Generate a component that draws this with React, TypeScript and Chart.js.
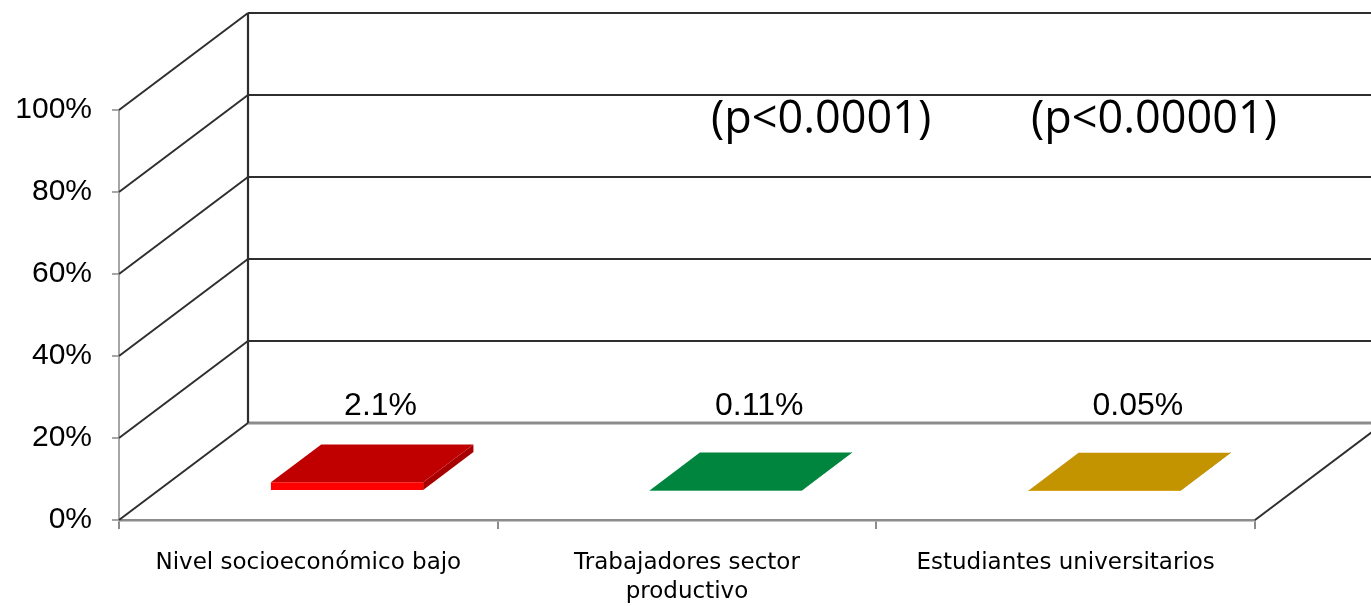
import React, { useEffect, useRef } from 'react';
import { Chart, registerables } from 'chart.js';

Chart.register(...registerables);

// ---- data ----
const categories: string[][] = [
  ['Nivel socioeconómico bajo'],
  ['Trabajadores sector', 'productivo'],
  ['Estudiantes universitarios'],
];
const values: number[] = [2.1, 0.11, 0.05];
const valueLabels: string[] = ['2.1%', '0.11%', '0.05%'];
const yTicks: number[] = [0, 20, 40, 60, 80, 100];
const pValueTexts: string[] = ['(p<0.0001)', '(p<0.00001)'];

// ---- styles ----
const topColors = ['#C00000', '#00853E', '#C49300'];
const frontColors = ['#FF0000', '#14994A', '#D6A412'];
const sideColors = ['#A80000', '#006D33', '#A87E00'];

const DX = 129; // depth offset in x
const DY = 97; // depth offset in y
const F0 = 0.3; // bar front depth fraction
const F1 = 0.69; // bar back depth fraction
const F_LABEL = 0.56;

const proj = (x: number, y: number, f: number): [number, number] => [x + f * DX, y - f * DY];

const threeD = {
  id: 'threeD',
  beforeDatasetsDraw(chart: any) {
    const { ctx, chartArea: a, scales } = chart;
    const y = scales.y;
    const line = (x1: number, y1: number, x2: number, y2: number) => {
      ctx.beginPath();
      ctx.moveTo(x1, y1);
      ctx.lineTo(x2, y2);
      ctx.stroke();
    };
    ctx.save();
    yTicks.forEach((v) => {
      const py = y.getPixelForValue(v);
      ctx.strokeStyle = '#2E2E2E';
      ctx.lineWidth = 2;
      line(a.left, py, a.left + DX, py - DY);
      ctx.strokeStyle = v === 0 ? '#8C8C8C' : '#2E2E2E';
      ctx.lineWidth = v === 0 ? 3 : 2.2;
      line(a.left + DX, py - DY, a.right + DX, py - DY);
    });
    ctx.strokeStyle = '#2E2E2E';
    ctx.lineWidth = 2.2;
    line(a.left + DX, y.getPixelForValue(yTicks[yTicks.length - 1]) - DY, a.left + DX, y.getPixelForValue(0) - DY);
    ctx.lineWidth = 2;
    line(a.right, a.bottom, a.right + DX, a.bottom - DY);
    ctx.restore();
  },
  beforeDatasetDraw() {
    return false;
  },
  afterDatasetsDraw(chart: any) {
    const { ctx, chartArea: a } = chart;
    const meta = chart.getDatasetMeta(0);
    const poly = (pts: [number, number][], color: string) => {
      ctx.beginPath();
      ctx.moveTo(pts[0][0], pts[0][1]);
      for (let k = 1; k < pts.length; k++) ctx.lineTo(pts[k][0], pts[k][1]);
      ctx.closePath();
      ctx.fillStyle = color;
      ctx.fill();
    };
    ctx.save();
    meta.data.forEach((el: any, i: number) => {
      const { x, y: top, base, width } = el.getProps(['x', 'y', 'base', 'width'], true);
      const xl = x - width / 2;
      const xr = x + width / 2;
      poly([proj(xr, base, F0), proj(xr, base, F1), proj(xr, top, F1), proj(xr, top, F0)], sideColors[i]);
      poly([proj(xl, top, F0), proj(xr, top, F0), proj(xr, top, F1), proj(xl, top, F1)], topColors[i]);
      poly([proj(xl, base, F0), proj(xr, base, F0), proj(xr, top, F0), proj(xl, top, F0)], frontColors[i]);
      ctx.fillStyle = '#000';
      ctx.font = '32px "Liberation Sans", Arial, sans-serif';
      ctx.textAlign = 'center';
      ctx.textBaseline = 'alphabetic';
      ctx.fillText(valueLabels[i], x + F_LABEL * DX, base - DY - 7);
    });
    ctx.font = '45px "Open Sans", "Noto Sans", sans-serif';
    ctx.textAlign = 'center';
    ctx.textBaseline = 'alphabetic';
    ctx.fillStyle = '#000';
    const w = a.right - a.left;
    const fr = [0.618, 0.911];
    pValueTexts.forEach((t, i) => {
      ctx.fillText(t, a.left + fr[i] * w, a.top + 23);
    });
    ctx.restore();
  },
};

export default function App() {
  const ref = useRef<HTMLCanvasElement | null>(null);
  useEffect(() => {
    if (!ref.current) return;
    const chart = new Chart(ref.current, {
      type: 'bar',
      data: {
        labels: categories,
        datasets: [
          {
            data: values,
            backgroundColor: topColors,
            barPercentage: 0.402,
            categoryPercentage: 1,
          },
        ],
      },
      options: {
        animation: false,
        responsive: true,
        maintainAspectRatio: false,
        layout: { padding: { top: 110, right: 116, left: 0, bottom: 0 } },
        plugins: { legend: { display: false }, tooltip: { enabled: false } },
        scales: {
          x: {
            grid: { drawOnChartArea: false, drawTicks: true, tickLength: 9, color: '#8C8C8C', lineWidth: 2, offset: true },
            border: { display: true, color: '#8C8C8C', width: 2.5 },
            ticks: {
              font: { family: '"DejaVu Sans", sans-serif', size: 23, lineHeight: 1.25 },
              color: '#000',
              padding: 20,
              maxRotation: 0,
              autoSkip: false,
            },
            afterFit: (s: any) => {
              s.height = 86;
            },
          },
          y: {
            min: 0,
            max: 100,
            afterBuildTicks: (s: any) => {
              s.ticks = yTicks.map((v) => ({ value: v }));
            },
            ticks: {
              callback: (v: any) => v + '%',
              font: { family: '"Liberation Sans", Arial, sans-serif', size: 30 },
              color: '#000',
              padding: 20,
            },
            grid: { drawOnChartArea: false, tickLength: 7, color: '#A6A6A6', lineWidth: 2 },
            border: { display: true, color: '#A6A6A6', width: 2 },
            afterFit: (s: any) => {
              s.width = 119;
            },
          },
        },
      },
      plugins: [threeD],
    });
    return () => chart.destroy();
  }, []);
  return (
    <div style={{ position: 'fixed', left: 0, top: 0, width: 1371, height: 606, background: '#fff' }}>
      <canvas ref={ref} />
    </div>
  );
}
